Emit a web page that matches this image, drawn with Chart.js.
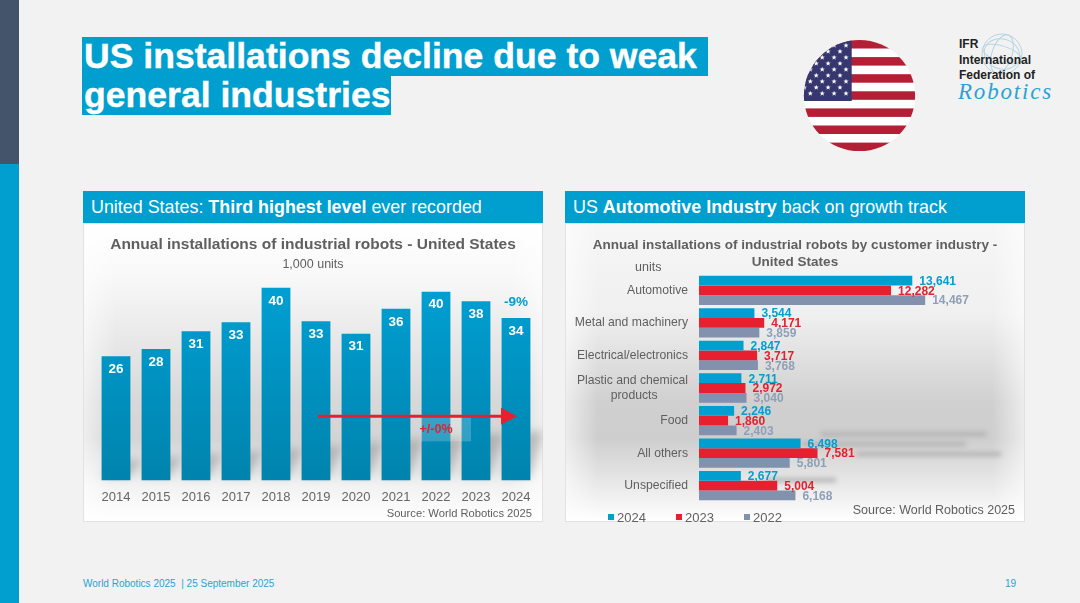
<!DOCTYPE html>
<html>
<head>
<meta charset="utf-8">
<title>US installations decline due to weak general industries</title>
<script src="https://cdn.jsdelivr.net/npm/chart.js@4/dist/chart.umd.min.js"></script>
<style>
  html, body { margin: 0; padding: 0; }
  body { width: 1080px; height: 603px; background: #f2f2f2; position: relative; overflow: hidden; font-family: "Liberation Sans", Arial, sans-serif; }
  .abs { position: absolute; white-space: nowrap; }
  .hl { position: absolute; left: 82px; background: #009fd0; color: #fff; font-weight: bold; font-size: 35.6px; line-height: 38px; height: 39px; padding-left: 2px; box-sizing: border-box; white-space: nowrap; -webkit-text-stroke: 0.4px #fff; }
  .head { position: absolute; top: 191px; width: 460px; height: 32px; line-height: 32px; background: #009fd0; color: #fff; font-size: 17.9px; box-sizing: border-box; padding-left: 8px; white-space: nowrap; }
  .panel { position: absolute; top: 223px; width: 460px; height: 299px; border: 1px solid #e2e2e2; box-sizing: border-box; overflow: hidden; }
  .fade { position: absolute; inset: 0; background: linear-gradient(90deg, rgba(255,255,255,.6) 0, rgba(255,255,255,0) 7%, rgba(255,255,255,0) 93%, rgba(255,255,255,.6) 100%); }
  .streak { position: absolute; height: 4px; background: #b0b0b0; filter: blur(2.5px); }
  canvas { position: absolute; display: block; }
  .lg { position: absolute; top: 510px; font-size: 13px; line-height: 16px; color: #5f5f5f; }
  .lg i { display: inline-block; width: 6px; height: 6px; margin-right: 3px; vertical-align: 2px; }
</style>
</head>
<body>
<div class="abs" style="left:0;top:0;width:19px;height:164px;background:#44546a"></div>
<div class="abs" style="left:0;top:164px;width:19px;height:439px;background:#009fd0"></div>

<div class="hl" style="top:37px;width:626px">US installations decline due to weak</div>
<div class="hl" style="top:76px;width:309px">general industries</div>

<svg id="flag" class="abs" style="left:800px;top:36px" width="120" height="120" viewBox="800 36 120 120"></svg>

<svg class="abs" style="left:975px;top:30px" width="55" height="50" viewBox="975 30 55 50">
  <g fill="none" stroke="#b7d5e2" stroke-width="1">
    <circle cx="1002" cy="54" r="20"/>
    <ellipse cx="1002" cy="54" rx="10" ry="20" transform="rotate(18 1002 54)"/>
    <ellipse cx="1002" cy="54" rx="20" ry="8" transform="rotate(18 1002 54)"/>
    <ellipse cx="1002" cy="54" rx="18" ry="15" transform="rotate(18 1002 54)"/>
  </g>
</svg>
<div class="abs" style="left:959px;top:37px;font-size:12px;font-weight:bold;line-height:15.5px;color:#222">IFR<br>International<br>Federation of</div>
<div class="abs" style="left:958px;top:79px;font-family:'Liberation Serif';font-style:italic;font-size:23px;letter-spacing:1.8px;color:#2aa3d3">Robotics</div>

<div class="head" style="left:83px">United States: <b>Third highest level</b> ever recorded</div>
<div class="panel" style="left:83px;background:linear-gradient(180deg,#fff 0,#f8f8f8 18%,#d8d8d8 60%,#d4d4d4 72%,#f2f2f2 88%,#fff 100%)"><div class="fade"></div></div>
<canvas id="totalChart" style="left:83px;top:223px" width="460" height="299"></canvas>
<div class="abs" style="right:548px;top:506px;font-size:11.2px;line-height:14px;color:#5f5f5f">Source: World Robotics 2025</div>

<div class="head" style="left:565px">US <b>Automotive Industry</b> back on growth track</div>
<div class="panel" style="left:565px;background:linear-gradient(180deg,#f6f6f6 0,#f0f0f0 30%,#d0d0d0 60%,#cecece 72%,#f0f0f0 92%,#fff 100%)">
  <div class="fade"></div>
  <div class="streak" style="left:255px;top:208px;width:165px"></div>
  <div class="streak" style="left:235px;top:218px;width:165px"></div>
  <div class="streak" style="left:290px;top:228px;width:145px"></div>
  <div class="streak" style="left:200px;top:254px;width:70px"></div>
</div>
<canvas id="industryChart" style="left:565px;top:223px" width="460" height="299"></canvas>
<div class="abs" style="left:635px;top:260px;font-size:12.5px;line-height:15px;color:#5f5f5f">units</div>
<div class="abs" style="right:65px;top:503px;font-size:12.5px;line-height:15px;color:#5f5f5f">Source: World Robotics 2025</div>
<div id="legend"></div>

<div class="abs" style="left:83px;top:578px;font-size:10px;line-height:12px;color:#29a3d2">World Robotics 2025&nbsp; | 25 September 2025</div>
<div class="abs" style="right:64px;top:578px;font-size:10px;line-height:12px;color:#29a3d2">19</div>

<script>
  // left chart, 1,000 units
  const years = ['2014', '2015', '2016', '2017', '2018', '2019', '2020', '2021', '2022', '2023', '2024'];
  const installations = [26.0, 27.5, 31.2, 33.1, 40.3, 33.3, 30.7, 35.9, 39.5, 37.5, 34.0];

  // right chart, units
  const industries = ['Automotive', 'Metal and machinery', 'Electrical/electronics', ['Plastic and chemical', 'products'], 'Food', 'All others', 'Unspecified'];
  const units2024 = [13641, 3544, 2847, 2711, 2246, 6498, 2677];
  const units2023 = [12282, 4171, 3717, 2972, 1860, 7581, 5004];
  const units2022 = [14467, 3859, 3768, 3040, 2403, 5801, 6168];

  const BLUE = '#009fd0';
  const RED = '#e6202e';
  const SLATE = '#8191ae';
  const SLATE_TEXT = '#8f9fb8';
  const GREY_TEXT = '#5f5f5f';
  const FONT = '"Liberation Sans", Arial, sans-serif';

  Chart.defaults.font.family = FONT;
  Chart.defaults.animation = false;

  // flag, only decoration
  (function () {
    const NS = 'http://www.w3.org/2000/svg';
    const svg = document.getElementById('flag');
    function add(name, attrs, parent) {
      const el = document.createElementNS(NS, name);
      Object.keys(attrs).forEach(function (k) { el.setAttribute(k, attrs[k]); });
      (parent || svg).appendChild(el);
      return el;
    }
    const defs = add('defs', {});
    const clip = add('clipPath', { id: 'disc' }, defs);
    add('circle', { cx: 859.5, cy: 95.7, r: 55.6 }, clip);
    const g = add('g', { 'clip-path': 'url(#disc)' });
    add('rect', { x: 800, y: 36, width: 120, height: 120, fill: '#fff' }, g);
    for (let i = 0; i < 7; i++) {
      add('rect', { x: 800, y: 40 + i * 17.1, width: 120, height: 8.5, fill: '#b31f35' }, g);
    }
    add('rect', { x: 800, y: 36, width: 51.7, height: 65, fill: '#37376f' }, g);
    for (let r = 0; r < 9; r++) {
      for (let c = 0; c < 5; c++) {
        const cx = 846 - c * 11.9 - (r % 2 ? 6 : 0);
        const cy = 45.5 + r * 6;
        let pts = '';
        for (let k = 0; k < 10; k++) {
          const rad = k % 2 ? 1.1 : 2.8;
          const a = -Math.PI / 2 + k * Math.PI / 5;
          pts += (cx + rad * Math.cos(a)).toFixed(2) + ',' + (cy + rad * Math.sin(a)).toFixed(2) + ' ';
        }
        add('polygon', { points: pts, fill: '#fff' }, g);
      }
    }
  })();

  // html legend for the right chart
  [['2024', BLUE, 608], ['2023', RED, 676], ['2022', SLATE, 744]].forEach(function (item) {
    const el = document.createElement('div');
    el.className = 'lg';
    el.style.left = item[2] + 'px';
    el.innerHTML = '<i style="background:' + item[1] + '"></i>' + item[0];
    document.getElementById('legend').appendChild(el);
  });

  function barGradient(context) {
    const area = context.chart.chartArea;
    if (!area) return BLUE;
    const g = context.chart.ctx.createLinearGradient(0, area.top, 0, area.bottom);
    g.addColorStop(0, '#00a0d3');
    g.addColorStop(1, '#0083ad');
    return g;
  }

  const totalPlugin = {
    id: 'totalPlugin',
    beforeDatasetsDraw: function (chart) {
      // soft slanted shadows behind the bars
      const c = chart.ctx;
      c.save();
      c.filter = 'blur(4px)';
      c.fillStyle = 'rgba(110,110,110,.35)';
      chart.getDatasetMeta(0).data.forEach(function (bar, i) {
        const h = 6 + i * 2.8;
        const left = bar.x - bar.width / 2;
        c.beginPath();
        c.moveTo(left, bar.base - 4);
        c.lineTo(left + bar.width, bar.base - 4);
        c.lineTo(left + bar.width + 13, bar.base - h - 15);
        c.lineTo(left + 13, bar.base - h - 15);
        c.closePath();
        c.fill();
      });
      c.restore();
    },
    afterDatasetsDraw: function (chart) {
      const c = chart.ctx;
      const bars = chart.getDatasetMeta(0).data;
      c.save();
      c.textAlign = 'center';
      c.textBaseline = 'middle';
      c.font = 'bold 13.5px ' + FONT;
      c.fillStyle = '#fff';
      bars.forEach(function (bar, i) {
        c.fillText(Math.round(installations[i]).toString(), bar.x, bar.y + 13);
      });

      // growth note above the last bar
      const last = bars[bars.length - 1];
      c.fillStyle = BLUE;
      c.fillText('-9%', last.x, last.y - 16);

      // flat trend arrow from 2019 to 2024
      const x0 = bars[5].x + 2;
      const x1 = last.x + 1;
      const y = chart.scales.y.getPixelForValue(13.4);
      c.fillStyle = 'rgba(255,255,255,.2)';
      c.fillRect(bars[8].x - 15, y + 1, 50, 24);
      c.strokeStyle = '#e6202e';
      c.lineWidth = 3;
      c.beginPath();
      c.moveTo(x0, y);
      c.lineTo(x1 - 10, y);
      c.stroke();
      c.fillStyle = '#e6202e';
      c.beginPath();
      c.moveTo(x1, y);
      c.lineTo(x1 - 16, y - 8.5);
      c.lineTo(x1 - 16, y + 8.5);
      c.closePath();
      c.fill();
      c.font = 'bold 12.5px ' + FONT;
      c.fillText('+/-0%', bars[8].x, y + 13);
      c.restore();
    }
  };

  new Chart(document.getElementById('totalChart'), {
    type: 'bar',
    data: {
      labels: years,
      datasets: [{
        data: installations,
        backgroundColor: barGradient,
        categoryPercentage: 0.72,
        barPercentage: 1
      }]
    },
    options: {
      responsive: false,
      layout: { padding: { left: 7, right: 7, bottom: 8 } },
      plugins: {
        legend: { display: false },
        tooltip: { enabled: false },
        title: {
          display: true,
          text: 'Annual installations of industrial robots - United States',
          color: GREY_TEXT,
          font: { size: 15.5, weight: 'bold' },
          padding: { top: 12, bottom: 1 }
        },
        subtitle: {
          display: true,
          text: '1,000 units',
          color: GREY_TEXT,
          font: { size: 12.5 },
          padding: { top: 2, bottom: 10 }
        }
      },
      scales: {
        x: {
          grid: { display: false, drawTicks: false },
          border: { display: false },
          ticks: { color: '#666', font: { size: 13 }, padding: 9, maxRotation: 0, autoSkip: false }
        },
        y: {
          min: 0,
          max: 41.6,
          afterFit: function (axis) { axis.width = 6; },
          grid: { display: false, drawTicks: false },
          border: { display: false },
          ticks: { display: false }
        }
      }
    },
    plugins: [totalPlugin]
  });

  const industryPlugin = {
    id: 'industryPlugin',
    afterDatasetsDraw: function (chart) {
      const c = chart.ctx;
      const textColors = [BLUE, RED, SLATE_TEXT];
      c.save();
      c.textAlign = 'left';
      c.textBaseline = 'middle';
      c.font = 'bold 12px ' + FONT;
      chart.data.datasets.forEach(function (ds, d) {
        c.fillStyle = textColors[d];
        chart.getDatasetMeta(d).data.forEach(function (bar, i) {
          c.fillText(ds.data[i].toLocaleString('en-US'), bar.x + 7, bar.y + 1);
        });
      });
      c.restore();
    }
  };

  function paddedTick(value) {
    const label = this.getLabelForValue(value);
    // second line sits centred under the first one, as on the slide
    return Array.isArray(label) ? [label[0], label[1] + '\u00a0'.repeat(9)] : label;
  }

  new Chart(document.getElementById('industryChart'), {
    type: 'bar',
    data: {
      labels: industries,
      datasets: [
        { label: '2024', data: units2024, backgroundColor: BLUE },
        { label: '2023', data: units2023, backgroundColor: RED },
        { label: '2022', data: units2022, backgroundColor: SLATE }
      ]
    },
    options: {
      indexAxis: 'y',
      responsive: false,
      datasets: { bar: { categoryPercentage: 0.9, barPercentage: 1 } },
      layout: { padding: { bottom: 20 } },
      plugins: {
        legend: { display: false },
        tooltip: { enabled: false },
        title: {
          display: true,
          text: ['Annual installations of industrial robots by customer industry -', 'United States'],
          color: GREY_TEXT,
          font: { size: 13.5, weight: 'bold', lineHeight: 1.26 },
          padding: { top: 14, bottom: 3 }
        }
      },
      scales: {
        x: { display: false, min: 0, max: 20850 },
        y: {
          afterFit: function (axis) { axis.width = 134; },
          grid: { display: false, drawTicks: false },
          border: { display: false },
          ticks: { color: GREY_TEXT, font: { size: 12.2 }, padding: 11, autoSkip: false, callback: paddedTick }
        }
      }
    },
    plugins: [industryPlugin]
  });
</script>
</body>
</html>
